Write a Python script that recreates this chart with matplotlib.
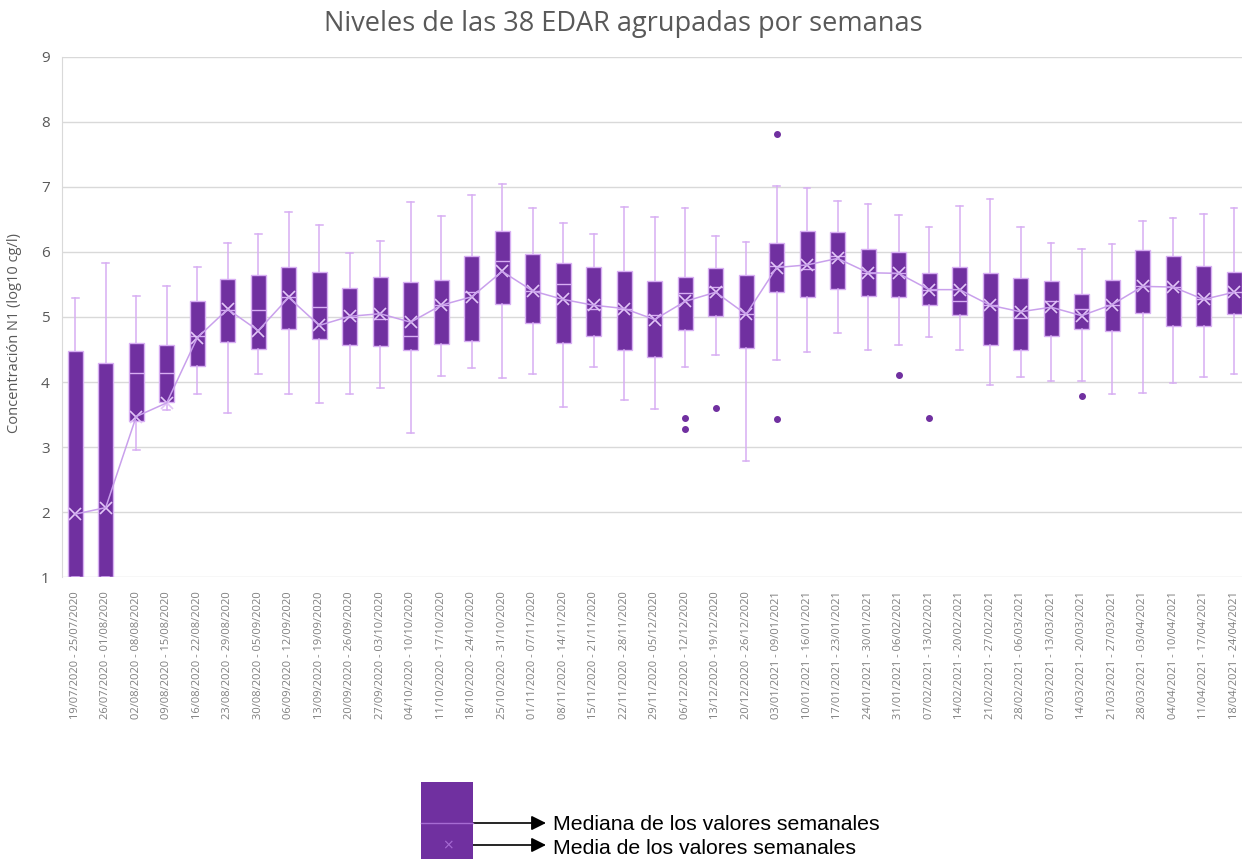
import matplotlib.pyplot as plt
from matplotlib.patches import Rectangle

# etiquetas de las semanas
semanas = [
    "19/07/2020 - 25/07/2020", "26/07/2020 - 01/08/2020", "02/08/2020 - 08/08/2020",
    "09/08/2020 - 15/08/2020", "16/08/2020 - 22/08/2020", "23/08/2020 - 29/08/2020",
    "30/08/2020 - 05/09/2020", "06/09/2020 - 12/09/2020", "13/09/2020 - 19/09/2020",
    "20/09/2020 - 26/09/2020", "27/09/2020 - 03/10/2020", "04/10/2020 - 10/10/2020",
    "11/10/2020 - 17/10/2020", "18/10/2020 - 24/10/2020", "25/10/2020 - 31/10/2020",
    "01/11/2020 - 07/11/2020", "08/11/2020 - 14/11/2020", "15/11/2020 - 21/11/2020",
    "22/11/2020 - 28/11/2020", "29/11/2020 - 05/12/2020", "06/12/2020 - 12/12/2020",
    "13/12/2020 - 19/12/2020", "20/12/2020 - 26/12/2020", "03/01/2021 - 09/01/2021",
    "10/01/2021 - 16/01/2021", "17/01/2021 - 23/01/2021", "24/01/2021 - 30/01/2021",
    "31/01/2021 - 06/02/2021", "07/02/2021 - 13/02/2021", "14/02/2021 - 20/02/2021",
    "21/02/2021 - 27/02/2021", "28/02/2021 - 06/03/2021", "07/03/2021 - 13/03/2021",
    "14/03/2021 - 20/03/2021", "21/03/2021 - 27/03/2021", "28/03/2021 - 03/04/2021",
    "04/04/2021 - 10/04/2021", "11/04/2021 - 17/04/2021", "18/04/2021 - 24/04/2021",
]

bigote_sup = [5.29, 5.83, 5.32, 5.47, 5.77, 6.14, 6.28, 6.61, 6.42, 5.99,
              6.16, 6.77, 6.55, 6.87, 7.04, 6.67, 6.45, 6.28, 6.69, 6.54,
              6.68, 6.24, 6.15, 7.01, 6.98, 6.78, 6.74, 6.56, 6.38, 6.71,
              6.82, 6.39, 6.14, 6.04, 6.12, 6.47, 6.52, 6.59, 6.67]
q3 = [4.48, 4.30, 4.60, 4.57, 5.25, 5.58, 5.65, 5.77, 5.69, 5.45,
      5.61, 5.53, 5.57, 5.94, 6.32, 5.97, 5.83, 5.77, 5.71, 5.55,
      5.62, 5.76, 5.64, 6.14, 6.32, 6.30, 6.05, 6.00, 5.68, 5.77,
      5.67, 5.60, 5.55, 5.36, 5.57, 6.03, 5.93, 5.79, 5.69]
mediana = [1.00, 1.00, 4.14, 4.14, 4.70, 5.10, 5.10, 5.30, 5.15, 5.00,
           4.97, 4.70, 5.18, 5.38, 5.86, 5.40, 5.50, 5.13, 5.13, 5.03,
           5.37, 5.46, 5.04, 5.78, 5.74, 5.93, 5.68, 5.67, 5.42, 5.25,
           5.18, 4.98, 5.25, 5.13, 5.19, 5.47, 5.46, 5.27, 5.38]
q1 = [1.00, 1.00, 3.40, 3.69, 4.24, 4.62, 4.51, 4.81, 4.66, 4.57,
      4.56, 4.49, 4.58, 4.63, 5.20, 4.90, 4.60, 4.71, 4.49, 4.39,
      4.80, 5.02, 4.52, 5.39, 5.30, 5.43, 5.32, 5.31, 5.18, 5.03,
      4.57, 4.50, 4.70, 4.81, 4.78, 5.06, 4.86, 4.86, 5.04]
bigote_inf = [1.00, 1.00, 2.95, 3.57, 3.82, 3.52, 4.13, 3.82, 3.68, 3.81,
              3.91, 3.22, 4.09, 4.22, 4.06, 4.12, 3.62, 4.23, 3.72, 3.58,
              4.23, 4.42, 2.79, 4.34, 4.46, 4.76, 4.50, 4.57, 4.69, 4.49,
              3.95, 4.07, 4.01, 4.01, 3.82, 3.83, 3.98, 4.08, 4.13]
media = [1.97, 2.07, 3.47, 3.68, 4.68, 5.12, 4.79, 5.30, 4.87, 5.01,
         5.05, 4.92, 5.18, 5.31, 5.70, 5.40, 5.27, 5.18, 5.13, 4.96,
         5.24, 5.38, 5.04, 5.76, 5.80, 5.90, 5.68, 5.67, 5.42, 5.42,
         5.18, 5.08, 5.15, 5.02, 5.19, 5.47, 5.46, 5.27, 5.38]

# valores atipicos (indice de semana, valor)
atipico_semana = [20, 20, 21, 23, 23, 27, 28, 33]
atipico_valor = [3.45, 3.28, 3.60, 7.81, 3.43, 4.11, 3.45, 3.78]

morado = '#7030A0'
lila = '#D7AEF3'

stats = []
for i, lab in enumerate(semanas):
    stats.append({
        'label': lab,
        'whishi': bigote_sup[i], 'q3': q3[i], 'med': mediana[i],
        'q1': q1[i], 'whislo': bigote_inf[i], 'mean': media[i],
        'fliers': [v for s, v in zip(atipico_semana, atipico_valor) if s == i],
    })

fig = plt.figure(figsize=(12.42, 8.59), dpi=100)
ax = fig.add_axes([0.05, 0.328, 0.95, 0.606])

x = list(range(len(semanas)))
ax.bxp(stats, positions=x, widths=0.49, patch_artist=True, showmeans=True,
       capwidths=0.22,
       boxprops=dict(facecolor=morado, edgecolor=lila, linewidth=1),
       whiskerprops=dict(color=lila, linewidth=1.1),
       capprops=dict(color=lila, linewidth=1.1),
       medianprops=dict(color=lila, linewidth=1),
       meanprops=dict(marker='x', markeredgecolor='#E2C6F7', markersize=9,
                      markeredgewidth=1.2),
       flierprops=dict(marker='o', markerfacecolor=morado, markeredgecolor=morado,
                       markersize=4))
ax.plot(x, media, color='#C9A0EC', linewidth=1.1, zorder=4)

ax.set_xlim(-0.43, 38.26)
ax.set_ylim(1, 9)
ax.set_yticks(range(1, 10))
ax.grid(axis='y', color='#D9D9D9', linewidth=1)
ax.set_axisbelow(True)
ax.tick_params(axis='both', length=0, colors='#595959')
ax.tick_params(axis='y', labelsize=11, pad=9)
ax.set_xticks(x)
ax.set_xticklabels(semanas, rotation=90, fontsize=8, color='#7F7F7F')
ax.tick_params(axis='x', pad=10)
for lab in ax.get_yticklabels():
    lab.set_fontfamily('Open Sans')
for lab in ax.get_xticklabels():
    lab.set_fontfamily('Open Sans')
for s in ['top', 'right', 'bottom']:
    ax.spines[s].set_visible(False)
ax.spines['left'].set_color('#D9D9D9')

ax.set_ylabel('Concentración N1 (log10 cg/l)', fontsize=10.5, color='#595959',
              family='Open Sans', labelpad=6)
ax.yaxis.set_label_coords(-0.034, 0.47)
fig.text(0.502, 0.972, 'Niveles de las 38 EDAR agrupadas por semanas', ha='center',
         va='center', fontsize=19.5, color='#595959', family='Open Sans')

# leyenda explicativa
fig.patches.append(Rectangle((421 / 1242, 0), 52 / 1242, 77 / 859,
                             transform=fig.transFigure, facecolor=morado,
                             edgecolor='none'))
fig.add_artist(plt.Line2D([421 / 1242, 473 / 1242], [1 - 823 / 859, 1 - 823 / 859],
                          transform=fig.transFigure, color='#A66BD3', linewidth=1))
fig.text(448 / 1242, 1 - 845 / 859, '×', ha='center', va='center', fontsize=10,
         color='#A66BD3')
fig.text(553 / 1242, 1 - 825 / 859, 'Mediana de los valores semanales',
         ha='left', va='center', fontsize=15.3, family='Liberation Sans', color='black')
fig.text(553 / 1242, 1 - 848 / 859, 'Media de los valores semanales',
         ha='left', va='center', fontsize=15.3, family='Liberation Sans', color='black')
ax.annotate('', xy=(546 / 1242, 1 - 823 / 859), xytext=(473 / 1242, 1 - 823 / 859),
            xycoords='figure fraction',
            arrowprops=dict(arrowstyle='-|>', color='black', lw=1.2,
                            mutation_scale=22, shrinkA=0, shrinkB=0))
ax.annotate('', xy=(546 / 1242, 1 - 845 / 859), xytext=(457 / 1242, 1 - 845 / 859),
            xycoords='figure fraction',
            arrowprops=dict(arrowstyle='-|>', color='black', lw=1.2,
                            mutation_scale=22, shrinkA=0, shrinkB=0))

fig.savefig('out.png', dpi=100)
